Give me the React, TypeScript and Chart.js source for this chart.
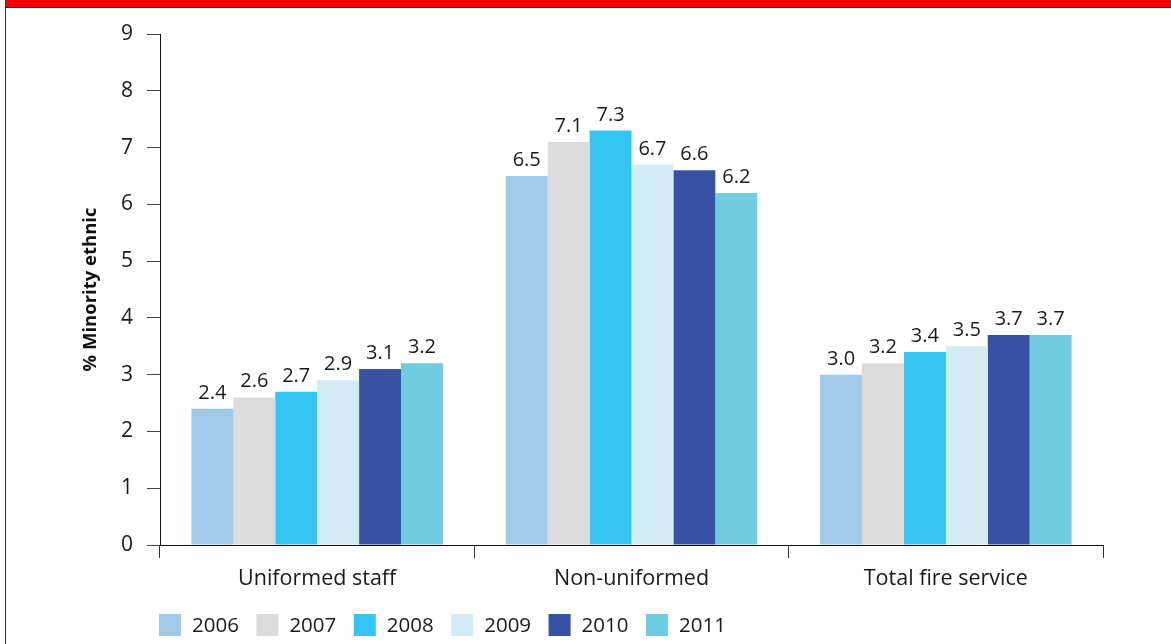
import React, { useEffect, useRef } from "react";
import { Chart, registerables } from "chart.js";

Chart.register(...registerables);

// Staff groups along the x axis
const categories = ["Uniformed staff", "Non-uniformed", "Total fire service"];

// Years shown as series
const years = ["2006", "2007", "2008", "2009", "2010", "2011"];

// % minority ethnic per staff group, one array per year
const values2006 = [2.4, 6.5, 3.0];
const values2007 = [2.6, 7.1, 3.2];
const values2008 = [2.7, 7.3, 3.4];
const values2009 = [2.9, 6.7, 3.5];
const values2010 = [3.1, 6.6, 3.7];
const values2011 = [3.2, 6.2, 3.7];

const yMin = 0;
const yMax = 9;
const yStep = 1;

const seriesValues = [values2006, values2007, values2008, values2009, values2010, values2011];
const seriesColors = ["#A0C9EA", "#DBDCDE", "#35C5F3", "#D3ECF3", "#3852A3", "#70CDDF"];

const FONT = "'Open Sans', 'Noto Sans', sans-serif";
const TEXT = "#1a1a1a";

// Value labels drawn above each bar
const barValueLabels = {
  id: "barValueLabels",
  afterDatasetsDraw(chart: any) {
    const { ctx } = chart;
    ctx.save();
    ctx.font = `20px ${FONT}`;
    ctx.fillStyle = TEXT;
    ctx.textAlign = "center";
    ctx.textBaseline = "alphabetic";
    chart.data.datasets.forEach((ds: any, i: number) => {
      const meta = chart.getDatasetMeta(i);
      meta.data.forEach((bar: any, j: number) => {
        const v = ds.data[j] as number;
        ctx.fillText(v.toFixed(1), bar.x, bar.y - 10);
      });
    });
    ctx.restore();
  },
};

// Square-swatch legend laid out in a row under the axis labels
const rowLegend = {
  id: "rowLegend",
  afterDraw(chart: any) {
    const { ctx, chartArea } = chart;
    const box = 22;
    const step = 97.4;
    const top = 614;
    ctx.save();
    ctx.font = `20.5px ${FONT}`;
    ctx.textAlign = "left";
    ctx.textBaseline = "middle";
    chart.data.datasets.forEach((ds: any, i: number) => {
      const x = chartArea.left - 1 + i * step;
      ctx.fillStyle = ds.backgroundColor;
      ctx.fillRect(x, top, box, box);
      ctx.fillStyle = TEXT;
      ctx.fillText(ds.label, x + box + 11, top + box / 2 + 1);
    });
    ctx.restore();
  },
};

function BarChart() {
  const canvasRef = useRef<HTMLCanvasElement | null>(null);

  useEffect(() => {
    if (!canvasRef.current) return;
    const chart = new Chart(canvasRef.current, {
      type: "bar",
      data: {
        labels: categories,
        datasets: years.map((y, i) => ({
          label: y,
          data: seriesValues[i],
          backgroundColor: seriesColors[i],
          borderWidth: 0,
          barPercentage: 1,
          categoryPercentage: 0.8,
        })),
      },
      options: {
        responsive: false,
        animation: false,
        layout: { padding: { top: 34, left: 80, right: 68, bottom: 39 } },
        plugins: {
          legend: { display: false },
          tooltip: { enabled: false },
        },
        scales: {
          x: {
            grid: {
              offset: true,
              drawOnChartArea: false,
              drawTicks: true,
              tickLength: 13,
              color: "#333333",
              lineWidth: 1,
            },
            border: { display: true, color: "#111111", width: 1 },
            ticks: {
              color: TEXT,
              font: { family: FONT, size: 21.5 },
              padding: 8,
              maxRotation: 0,
            },
            afterFit(scale: any) {
              scale.height = 60;
            },
          },
          y: {
            min: yMin,
            max: yMax,
            grid: {
              drawOnChartArea: false,
              drawTicks: true,
              tickLength: 13,
              color: "#444444",
              lineWidth: 1,
            },
            border: { display: true, color: "#111111", width: 1 },
            ticks: {
              stepSize: yStep,
              color: TEXT,
              font: { family: FONT, size: 21 },
              padding: 14,
            },
            title: {
              display: true,
              text: "% Minority ethnic",
              color: "#111111",
              font: { family: FONT, size: 18.5, weight: "bold" },
              padding: 0,
            },
            afterFit(scale: any) {
              scale.width = 80;
            },
          },
        },
      },
      plugins: [barValueLabels, rowLegend],
    });
    return () => chart.destroy();
  }, []);

  return <canvas ref={canvasRef} width={1171} height={644} style={{ display: "block" }} />;
}

export default function App() {
  return (
    <div style={{ position: "fixed", left: 0, top: 0, width: 1171, height: 644, background: "#ffffff" }}>
      <BarChart />
      {/* red header band with dark rule beneath */}
      <div style={{ position: "absolute", left: 6, top: 0, width: 1165, height: 7, background: "#FF0000" }} />
      <div style={{ position: "absolute", left: 6, top: 7, width: 1165, height: 1, background: "#222222" }} />
      {/* left frame rule */}
      <div style={{ position: "absolute", left: 5, top: 0, width: 1, height: 644, background: "#333333" }} />
    </div>
  );
}
